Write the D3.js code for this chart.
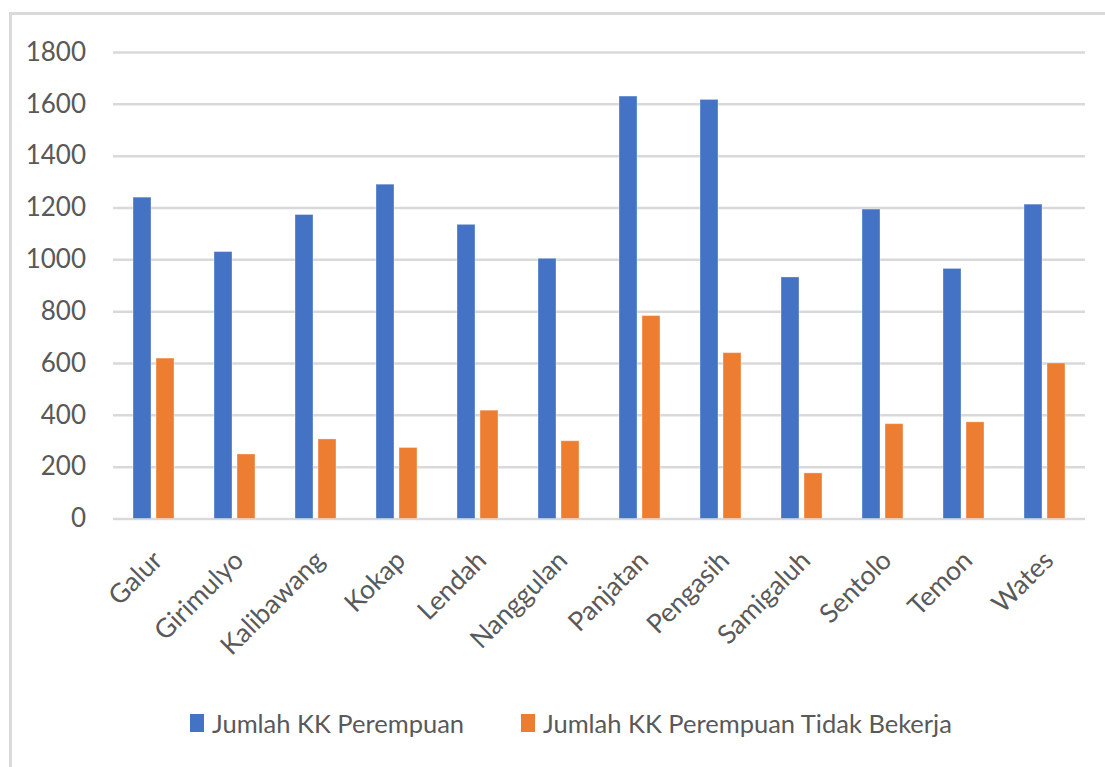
<!DOCTYPE html>
<html>
<head>
<meta charset="utf-8">
<script src="https://cdn.jsdelivr.net/npm/d3@7"></script>
<style>
  html, body { margin: 0; padding: 0; background: #fff; }
  svg { display: block; }
</style>
</head>
<body>
<svg id="chart" width="1105" height="767"></svg>
<script>
const categories = ["Galur", "Girimulyo", "Kalibawang", "Kokap", "Lendah", "Nanggulan", "Panjatan", "Pengasih", "Samigaluh", "Sentolo", "Temon", "Wates"];
const seriesNames = ["Jumlah KK Perempuan", "Jumlah KK Perempuan Tidak Bekerja"];
const kkPerempuan = [1240, 1030, 1173, 1290, 1135, 1004, 1630, 1617, 932, 1194, 965, 1213];
const kkTidakBekerja = [619, 249, 307, 274, 418, 300, 783, 640, 176, 366, 373, 600];
const yTicks = [0, 200, 400, 600, 800, 1000, 1200, 1400, 1600, 1800];

const colors = ["#4472C4", "#ED7D31"];
const textColor = "#595959";
const gridColor = "#D9D9D9";
const font = "Lato, 'Open Sans', sans-serif";

const svg = d3.select("#chart");

// outer chart border (extends beyond the visible frame on right/bottom)
svg.append("rect")
  .attr("x", 10.5).attr("y", 13.5)
  .attr("width", 1200).attr("height", 900)
  .attr("fill", "none").attr("stroke", gridColor).attr("stroke-width", 3);

const plot = { left: 113, right: 1085, top: 52, bottom: 518.5 };

const x = d3.scaleBand().domain(categories).range([plot.left, plot.right]).padding(0);
const y = d3.scaleLinear().domain([0, 1800]).range([plot.bottom, plot.top]);

// gridlines
const yAxis = d3.axisLeft(y).tickValues(yTicks).tickSize(-(plot.right - plot.left)).tickPadding(27).tickFormat(d3.format("d"));
const gy = svg.append("g").attr("transform", `translate(${plot.left},0)`).call(yAxis);
gy.select(".domain").remove();
gy.selectAll(".tick line").attr("stroke", gridColor).attr("stroke-width", 2.5);
gy.selectAll(".tick text")
  .attr("fill", textColor)
  .style("font-family", font)
  .style("font-size", "26px");

// bars
const barW = 18, gap = 5;
const series = [kkPerempuan, kkTidakBekerja];
series.forEach((vals, si) => {
  svg.append("g").selectAll("rect")
    .data(categories.map((c, i) => ({ c, v: vals[i] })))
    .join("rect")
    .attr("x", d => x(d.c) + x.bandwidth() / 2 + (si === 0 ? -(gap / 2 + barW) : gap / 2))
    .attr("y", d => y(d.v))
    .attr("width", barW)
    .attr("height", d => y(0) - y(d.v))
    .attr("fill", colors[si])
    .attr("stroke", "#ffffff").attr("stroke-opacity", 0.35).attr("stroke-width", 1);
});

// x axis labels
const xAxis = d3.axisBottom(x).tickSize(0).tickPadding(0);
const gx = svg.append("g").attr("transform", `translate(0,${plot.bottom})`).call(xAxis);
gx.select(".domain").remove();
gx.selectAll(".tick text")
  .attr("fill", textColor)
  .style("font-family", font)
  .style("font-size", "26.5px")
  .attr("text-anchor", "end")
  .attr("dy", "0.35em")
  .attr("y", 0)
  .attr("transform", "translate(4,37) rotate(-45)");

// legend
const legendItems = [
  { name: seriesNames[0], color: colors[0], x: 190 },
  { name: seriesNames[1], color: colors[1], x: 521 }
];
const lg = svg.append("g");
legendItems.forEach(item => {
  lg.append("rect")
    .attr("x", item.x).attr("y", 714)
    .attr("width", 14).attr("height", 18)
    .attr("fill", item.color);
  lg.append("text")
    .attr("x", item.x + 22).attr("y", 733)
    .attr("fill", textColor)
    .style("font-family", font)
    .style("font-size", "25.5px")
    .text(item.name);
});
</script>
</body>
</html>
